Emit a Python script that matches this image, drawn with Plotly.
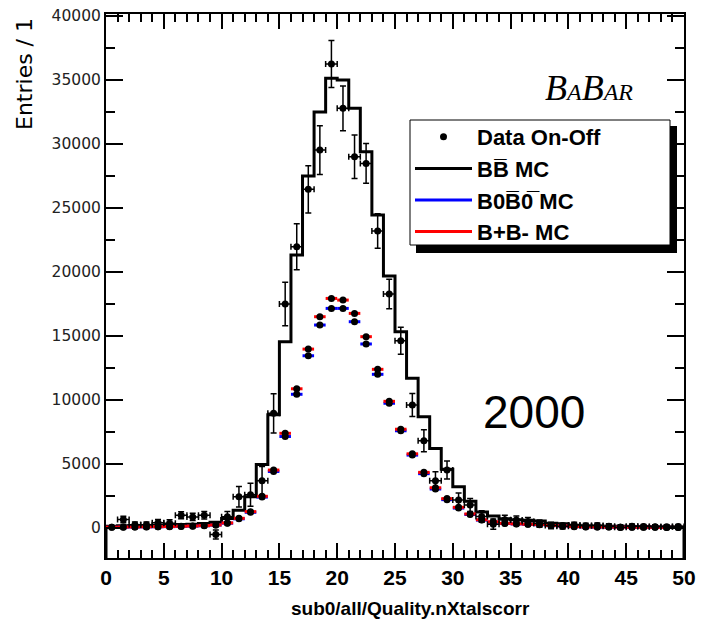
import plotly.graph_objects as go

# ---------------- data (50 bins of width 1, 0..50) ----------------
bin_edges = list(range(0, 51))
bin_centers = [e + 0.5 for e in range(0, 50)]

bb_mc = [150, 170, 190, 200, 220, 240, 270, 300, 360, 450,
         750, 1400, 2450, 4970, 8850, 14550, 21330, 27500, 32500, 35150,
         35000, 32800, 29400, 24450, 19700, 15340, 11700, 8700, 6220, 4600,
         3230, 2100, 1250, 950, 720, 650, 600, 550, 380, 330,
         220, 180, 160, 150, 140, 130, 120, 110, 100, 90]

b0_mc = [60, 70, 80, 90, 100, 110, 130, 150, 180, 230,
         380, 720, 1230, 2420, 4420, 7150, 10450, 13460, 15860, 17160,
         17160, 16120, 14380, 12010, 9750, 7600, 5700, 4250, 3050, 2220,
         1560, 1060, 620, 460, 360, 320, 290, 260, 190, 160,
         110, 90, 80, 75, 70, 65, 60, 55, 50, 45]

bp_mc = [70, 80, 90, 100, 110, 120, 140, 160, 190, 240,
         400, 760, 1280, 2480, 4530, 7400, 10880, 13980, 16510, 17940,
         17810, 16770, 14950, 12400, 9900, 7720, 5800, 4350, 3150, 2300,
         1620, 1100, 650, 490, 370, 330, 300, 280, 200, 170,
         115, 95, 85, 78, 72, 68, 62, 58, 52, 48]

data_onoff = [None, 670, 250, 250, 420, 380, 1000, 870, 1000, -500,
              880, 2450, 2600, 3700, 8960, 17500, 21980, 26460, 29530, 36250,
              32790, 29010, 28490, 23200, 18280, 14630, 9610, 6820, 3700, 4530,
              2190, 1800, 900, 300, 650, 620, 520, 350, 200, 150,
              230, 180, 200, 150, 60, 150, 120, 100, 100, 120]

data_err = [0, 250, 230, 230, 250, 260, 280, 290, 300, 350,
            420, 800, 900, 1100, 1540, 1700, 1800, 1850, 1900, 1830,
            1750, 1700, 1550, 1350, 1150, 1050, 900, 850, 700, 700,
            550, 500, 450, 400, 350, 330, 300, 280, 250, 230,
            220, 200, 190, 180, 170, 170, 160, 160, 150, 150]

y_tick_vals = [0, 5000, 10000, 15000, 20000, 25000, 30000, 35000, 40000]
x_tick_vals = [0, 5, 10, 15, 20, 25, 30, 35, 40, 45, 50]

x_range = [0, 50]
y_range = [-2340, 40160]

# ---------------- geometry (page pixels; the page body has an 8px margin) ----------------
PAGE_W, PAGE_H, BODY = 704, 627, 8
W, H = PAGE_W - 2 * BODY, PAGE_H - 2 * BODY
FRAME_L, FRAME_R, FRAME_T, FRAME_B = 106, 684, 14, 558   # in page pixels
ML = FRAME_L - BODY
MT = FRAME_T - BODY
MR = W - (FRAME_R - BODY)
MB = H - (FRAME_B - BODY)
PW, PH = FRAME_R - FRAME_L, FRAME_B - FRAME_T


def px(x):
    return (x - FRAME_L) / PW


def py(y):
    return (FRAME_B - y) / PH


fig = go.Figure()

# B B-bar MC histogram (step outline down to frame bottom at both ends)
hist_x = [bin_edges[0]] + bin_edges + [bin_edges[-1]]
hist_y = [y_range[0]] + bb_mc + [bb_mc[-1], y_range[0]]
fig.add_trace(go.Scatter(
    x=hist_x, y=hist_y, mode="lines", line=dict(color="black", width=3, shape="hv"),
    name="BB\u0305 MC", legendrank=2, hoverinfo="skip"))

# B0 B0bar MC (blue)
fig.add_trace(go.Scatter(
    x=bin_centers, y=b0_mc, mode="markers",
    marker=dict(color="black", size=7, symbol="circle"),
    error_x=dict(type="constant", value=0.5, color="blue", thickness=3, width=0),
    showlegend=False, hoverinfo="skip"))

# B+B- MC (red)
fig.add_trace(go.Scatter(
    x=bin_centers, y=bp_mc, mode="markers",
    marker=dict(color="black", size=7, symbol="circle"),
    error_x=dict(type="constant", value=0.5, color="red", thickness=3, width=0),
    showlegend=False, hoverinfo="skip"))

# Data On-Off
fig.add_trace(go.Scatter(
    x=bin_centers, y=data_onoff, mode="markers",
    marker=dict(color="black", size=7, symbol="circle"),
    error_y=dict(type="data", array=data_err, color="black", thickness=1.5, width=3),
    error_x=dict(type="constant", value=0.5, color="black", thickness=1.5, width=3),
    name="Data On-Off", legendrank=1, hoverinfo="skip"))

# legend proxies for the MC samples
fig.add_trace(go.Scatter(x=[None], y=[None], mode="lines",
                         line=dict(color="blue", width=3),
                         name="B0B\u03050\u0305 MC", legendrank=3))
fig.add_trace(go.Scatter(x=[None], y=[None], mode="lines",
                         line=dict(color="red", width=3),
                         name="B+B- MC", legendrank=4))

# legend box with ROOT-style shadow
fig.add_shape(type="rect", xref="paper", yref="paper",
              x0=px(416), x1=px(677), y0=py(253), y1=py(126),
              fillcolor="black", line=dict(width=0), layer="above")
fig.add_shape(type="rect", xref="paper", yref="paper",
              x0=px(410), x1=px(670), y0=py(245), y1=py(120),
              fillcolor="white", line=dict(color="black", width=1), layer="above")

axis_common = dict(
    showline=True, linecolor="black", linewidth=2, mirror="allticks",
    ticks="inside", tickcolor="black", tickwidth=1.5,
    showgrid=False, zeroline=False, automargin=False,
    ticklabeloverflow="allow",
)

fig.update_xaxes(
    range=x_range, tickvals=x_tick_vals, ticklen=15,
    minor=dict(dtick=1, ticks="inside", ticklen=8, tickcolor="black", tickwidth=1.5, showgrid=False),
    tickfont=dict(family="Liberation Sans", size=21, color="black", weight="bold"),
    **axis_common)

fig.update_yaxes(
    range=y_range, tickvals=y_tick_vals, tickformat="d", ticklen=17,
    minor=dict(dtick=2500, tick0=0, ticks="inside", ticklen=9, tickcolor="black", tickwidth=1.5, showgrid=False),
    tickfont=dict(family="DejaVu Sans", size=15.5, color="#222222"),
    **axis_common)

annotations = [
    dict(text="Entries / 1", xref="paper", yref="paper", x=px(24), y=py(16),
         xanchor="center", yanchor="top", textangle=-90, showarrow=False,
         font=dict(family="DejaVu Sans", size=22, color="black")),
    dict(text="sub0/all/Quality.nXtalscorr", xref="paper", yref="paper",
         x=px(410), y=py(608), xanchor="center", yanchor="middle", showarrow=False,
         font=dict(family="Liberation Sans", size=19, color="black", weight="bold")),
    dict(text="2000", xref="x", yref="y", x=32.4, y=9100, xanchor="left", yanchor="middle",
         showarrow=False, font=dict(family="Liberation Sans", size=46, color="black")),
    dict(text="B<span style='font-size:24px'>A</span>B<span style='font-size:24px'>AR</span>",
         xref="paper", yref="paper", x=px(543), y=py(88), xanchor="left", yanchor="middle",
         showarrow=False, font=dict(family="Liberation Serif", size=36, color="black", style="italic")),
]

fig.update_layout(
    width=W, height=H,
    margin=dict(l=ML, r=MR, t=MT, b=MB, pad=0, autoexpand=False),
    paper_bgcolor="white", plot_bgcolor="white",
    annotations=annotations,
    legend=dict(x=px(410), y=py(116), xanchor="left", yanchor="top",
                bgcolor="rgba(0,0,0,0)", borderwidth=0, itemwidth=57,
                font=dict(family="Liberation Sans", size=22, color="black", weight="bold"),
                tracegroupgap=0),
    showlegend=True,
)

fig.write_html("out.html")
